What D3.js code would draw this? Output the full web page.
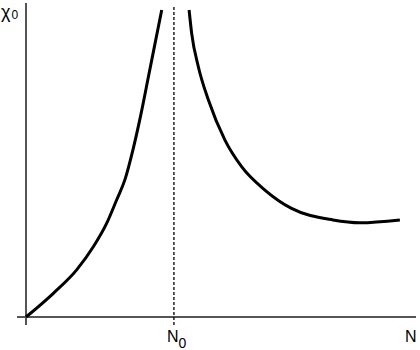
<!DOCTYPE html>
<html>
<head>
<meta charset="utf-8">
<script src="https://cdn.jsdelivr.net/npm/d3@7"></script>
<style>
  body { margin: 0; background: #fff; }
  svg { display: block; }
  text { font-family: "Liberation Sans", Arial, sans-serif; fill: #000; }
</style>
</head>
<body>
<div id="chart"></div>
<script>
// susceptibility curve either side of the critical point N0
const leftN = [0, 0.74, 1.37, 1.82, 2.18, 2.45, 2.68, 2.89, 3.11, 3.31, 3.49, 3.67];
const leftChi = [0, 0.76, 1.51, 2.25, 3.00, 3.75, 4.42, 5.35, 6.51, 7.70, 8.77, 9.84];
const rightN = [4.41, 4.48, 4.66, 4.93, 5.38, 5.83, 6.46, 7.18, 8.30, 9.03, 10.11];
const rightChi = [9.84, 9.09, 8.02, 6.96, 5.67, 4.82, 4.07, 3.48, 3.11, 3.02, 3.11];
const criticalN = 4;
const xLabels = ['N', '0'];

const width = 420;
const height = 350;

const svg = d3.select('#chart')
    .append('svg')
    .attr('width', width)
    .attr('height', height);

const x = d3.scaleLinear().domain([0, 10.6]).range([26, 418]);
const y = d3.scaleLinear().domain([0, 10]).range([317, 5]);

// axes
svg.append('line')
    .attr('x1', x(0)).attr('x2', x(0))
    .attr('y1', 3).attr('y2', 325)
    .attr('stroke', '#555').attr('stroke-width', 2);

svg.append('line')
    .attr('x1', 17).attr('x2', 416)
    .attr('y1', y(0)).attr('y2', y(0))
    .attr('stroke', '#555').attr('stroke-width', 2);

// critical line
svg.append('line')
    .attr('x1', x(criticalN)).attr('x2', x(criticalN))
    .attr('y1', 7).attr('y2', 325)
    .attr('stroke', '#000').attr('stroke-width', 1.3)
    .attr('stroke-dasharray', '3,2');

const line = d3.line()
    .x(d => x(d[0]))
    .y(d => y(d[1]))
    .curve(d3.curveMonotoneX);

[d3.zip(leftN, leftChi), d3.zip(rightN, rightChi)].forEach(function(pts) {
    svg.append('path')
        .datum(pts)
        .attr('d', line)
        .attr('fill', 'none')
        .attr('stroke', '#000')
        .attr('stroke-width', 3);
});

// labels
const yLab = svg.append('text').attr('x', 1).attr('y', 18).style('font-size', '18px');
yLab.append('tspan').text('χ');
yLab.append('tspan').attr('dx', 1).attr('dy', 1).style('font-size', '12px').text('0');

const n0 = svg.append('text').attr('x', 167).attr('y', 342).style('font-size', '16px');
n0.append('tspan').text(xLabels[0]);
n0.append('tspan').attr('dy', 6).style('font-size', '14px').text(xLabels[1]);

svg.append('text')
    .attr('x', 405).attr('y', 342)
    .style('font-size', '16px')
    .text(xLabels[0]);
</script>
</body>
</html>
